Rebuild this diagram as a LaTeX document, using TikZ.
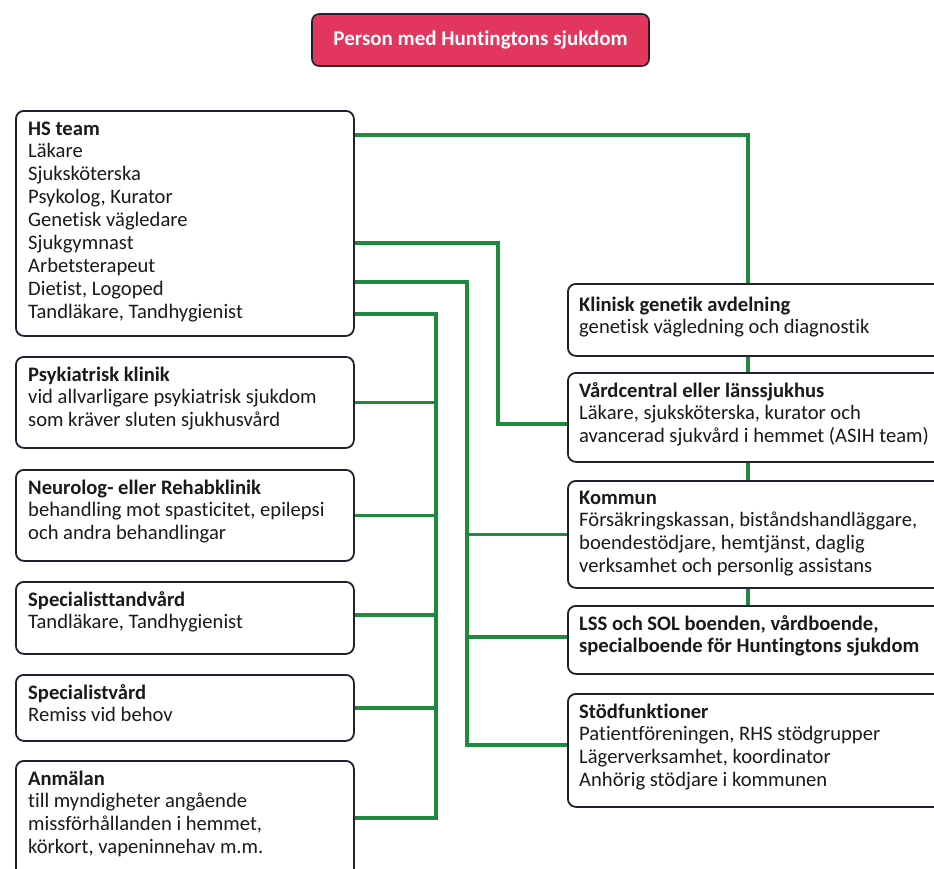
\documentclass[tikz,border=0pt]{standalone}
\usepackage{fontspec}
\setmainfont{Carlito}[Ligatures=NoCommon]
\definecolor{linegreen}{HTML}{1F8A3E}
\definecolor{boxline}{HTML}{1E2230}
\definecolor{titlered}{HTML}{E2365E}
\definecolor{txtcol}{HTML}{1A1A1A}
\newcommand{\boxtext}[1]{\parbox[t]{400pt}{\raggedright #1}}
\begin{document}
\begin{tikzpicture}[x=1pt,y=-1pt,
  box/.style={draw=boxline, line width=1.8pt, rounded corners=8pt, fill=white, inner sep=0pt, anchor=north west},
  titlebox/.style={draw=boxline, line width=1.6pt, rounded corners=7pt, fill=titlered, inner sep=0pt,
    text=white, font=\fontsize{21}{25}\selectfont\bfseries},
  txt/.style={inner sep=0pt, anchor=base west, text=txtcol, font=\fontsize{20.6}{22.9}\selectfont},
  conn/.style={draw=linegreen, line width=3.8pt, line join=miter}]
\useasboundingbox (0,0) rectangle (934,868);
\clip (0,0) rectangle (934,868);
\fill[white] (0,0) rectangle (934,868);

% title
\node[titlebox, minimum width=337pt, minimum height=52pt] (title) at (480.5,40) {Person med Huntingtons sjukdom};

% left column boxes
\node[box, minimum width=338pt, minimum height=225pt] (hs) at (15,110) {};
\node[box, minimum width=338pt, minimum height=91pt] (psyk) at (15,356) {};
\node[box, minimum width=338pt, minimum height=91pt] (neuro) at (15,469) {};
\node[box, minimum width=338pt, minimum height=72pt] (spt) at (15,581) {};
\node[box, minimum width=338pt, minimum height=66pt] (spv) at (15,674) {};
\node[box, minimum width=338pt, minimum height=125pt] (anm) at (15,760) {};

% right column boxes
\node[box, minimum width=383pt, minimum height=72pt] (klin) at (567,283) {};
\node[box, minimum width=383pt, minimum height=89pt] (vard) at (567,372) {};
\node[box, minimum width=383pt, minimum height=107pt] (kom) at (567,480) {};
\node[box, minimum width=383pt, minimum height=68pt] (lss) at (567,605) {};
\node[box, minimum width=383pt, minimum height=113pt] (stod) at (567,693) {};

% texts
\node[txt] (hs-t) at ([shift={(13,25)}]hs.north west) {\boxtext{\textbf{HS team}\\Läkare\\Sjuksköterska\\Psykolog, Kurator\\Genetisk vägledare\\Sjukgymnast\\Arbetsterapeut\\Dietist, Logoped\\Tandläkare, Tandhygienist}};
\node[txt] (psyk-t) at ([shift={(13,25)}]psyk.north west) {\boxtext{\textbf{Psykiatrisk klinik}\\vid allvarligare psykiatrisk sjukdom\\som kräver sluten sjukhusvård}};
\node[txt] (neuro-t) at ([shift={(13,25)}]neuro.north west) {\boxtext{\textbf{Neurolog- eller Rehabklinik}\\behandling mot spasticitet, epilepsi\\och andra behandlingar}};
\node[txt] (spt-t) at ([shift={(13,25)}]spt.north west) {\boxtext{\textbf{Specialisttandvård}\\Tandläkare, Tandhygienist}};
\node[txt] (spv-t) at ([shift={(13,25)}]spv.north west) {\boxtext{\textbf{Specialistvård}\\Remiss vid behov}};
\node[txt] (anm-t) at ([shift={(13,25)}]anm.north west) {\boxtext{\textbf{Anmälan}\\till myndigheter angående\\missförhållanden i hemmet,\\körkort, vapeninnehav m.m.}};

\node[txt] (klin-t) at ([shift={(12,28)}]klin.north west) {\boxtext{\textbf{Klinisk genetik avdelning}\\genetisk vägledning och diagnostik}};
\node[txt] (vard-t) at ([shift={(12,25)}]vard.north west) {\boxtext{\textbf{Vårdcentral eller länssjukhus}\\Läkare, sjuksköterska, kurator och\\avancerad sjukvård i hemmet (ASIH team)}};
\node[txt] (kom-t) at ([shift={(12,24)}]kom.north west) {\boxtext{\textbf{Kommun}\\Försäkringskassan, biståndshandläggare,\\boendestödjare, hemtjänst, daglig\\verksamhet och personlig assistans}};
\node[txt] (lss-t) at ([shift={(12,25)}]lss.north west) {\boxtext{\textbf{LSS och SOL boenden, vårdboende,}\\\textbf{specialboende för Huntingtons sjukdom}}};
\node[txt] (stod-t) at ([shift={(12,25)}]stod.north west) {\boxtext{\textbf{Stödfunktioner}\\Patientföreningen, RHS stödgrupper\\Lägerverksamhet, koordinator\\Anhörig stödjare i kommunen}};

% trunk x positions
\coordinate (xa) at (436,0);
\coordinate (xb) at (467,0);
\coordinate (xc) at (498,0);
\coordinate (xd) at (748,0);

% connectors
\draw[conn] (hs.east |- 0,135) -| (klin.north -| xd);
\draw[conn] (klin.south -| xd) -- (vard.north -| xd);
\draw[conn] (vard.south -| xd) -- (kom.north -| xd);
\draw[conn] (kom.south -| xd) -- (lss.north -| xd);

\draw[conn] (hs.east |- 0,243) -| (xc |- 0,424) -- (vard.west |- 0,424);

\draw[conn] (hs.east |- 0,282) -| (xb |- 0,745) -- (stod.west |- 0,745);
\draw[conn] (xb |- kom.west) -- (kom.west);
\draw[conn] (xb |- 0,637) -- (lss.west |- 0,637);

\draw[conn] (hs.east |- 0,314) -| (xa |- 0,818) -- (anm.east |- 0,818);
\draw[conn] (psyk.east) -- (psyk.east -| xa);
\draw[conn] (neuro.east) -- (neuro.east -| xa);
\draw[conn] (spt.east |- 0,615) -- (xa |- 0,615);
\draw[conn] (spv.east) -- (spv.east -| xa);
\end{tikzpicture}
\end{document}
